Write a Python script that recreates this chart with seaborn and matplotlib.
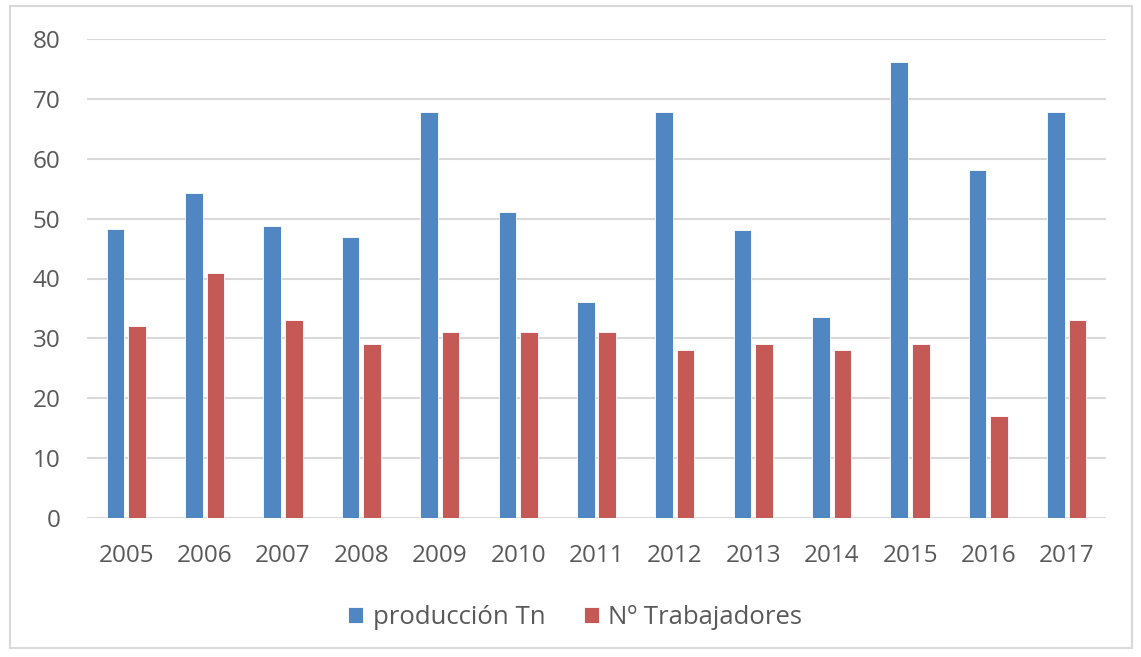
import numpy as np
import pandas as pd
import matplotlib
matplotlib.use('Agg')
import matplotlib.pyplot as plt
import seaborn as sns
from matplotlib.patches import Rectangle

# valores
years = ['2005', '2006', '2007', '2008', '2009', '2010', '2011',
         '2012', '2013', '2014', '2015', '2016', '2017']
produccion = [48.2, 54.3, 48.7, 46.9, 67.8, 51.1, 36.1,
              67.8, 48.1, 33.6, 76.1, 58.1, 67.8]
trabajadores = [32, 41, 33, 29, 31, 31, 31, 28, 29, 28, 29, 17, 33]
series = ['producción Tn', 'Nº Trabajadores']
colors = ['#5087C2', '#C45955']

df = pd.DataFrame({
    'year': years * 2,
    'value': produccion + trabajadores,
    'serie': [series[0]] * len(years) + [series[1]] * len(years),
})

sns.set_style('white')
plt.rcParams['font.family'] = ['Open Sans', 'DejaVu Sans']
text_col = '#595959'

fig = plt.figure(figsize=(11.41, 6.57), dpi=100)
ax = fig.add_axes([87 / 1141, 1 - 518 / 657, (1106 - 87) / 1141, (518 - 39) / 657])

sns.barplot(data=df, x='year', y='value', hue='serie', palette=colors,
            width=0.55, gap=0.185, ax=ax, edgecolor='white', linewidth=0.6,
            saturation=1, zorder=3)

ax.set_ylim(0, 80)
ax.set_yticks(np.arange(0, 81, 10))
ax.set_xlim(-0.5, len(years) - 0.5)
ax.grid(axis='y', color='#d9d9d9', linewidth=1.5, zorder=0)
ax.set_axisbelow(True)
for s in ax.spines.values():
    s.set_visible(False)
ax.set_xlabel('')
ax.set_ylabel('')
ax.tick_params(axis='both', length=0, labelsize=17.5, colors=text_col)
ax.tick_params(axis='y', pad=19)
ax.tick_params(axis='x', pad=19)

leg = ax.legend(loc='center', bbox_to_anchor=(0.479, -0.208), ncol=2, frameon=False,
                fontsize=18.5, handlelength=0.6, handleheight=0.6,
                handletextpad=0.36, columnspacing=1.5)
for t in leg.get_texts():
    t.set_color(text_col)

# marco gris alrededor de la figura
fig.patches.append(Rectangle((10 / 1141, 9 / 657), 1122 / 1141, 642 / 657,
                             transform=fig.transFigure, fill=False,
                             edgecolor='#d9d9d9', linewidth=1.5))

fig.savefig('out.png', dpi=100)
